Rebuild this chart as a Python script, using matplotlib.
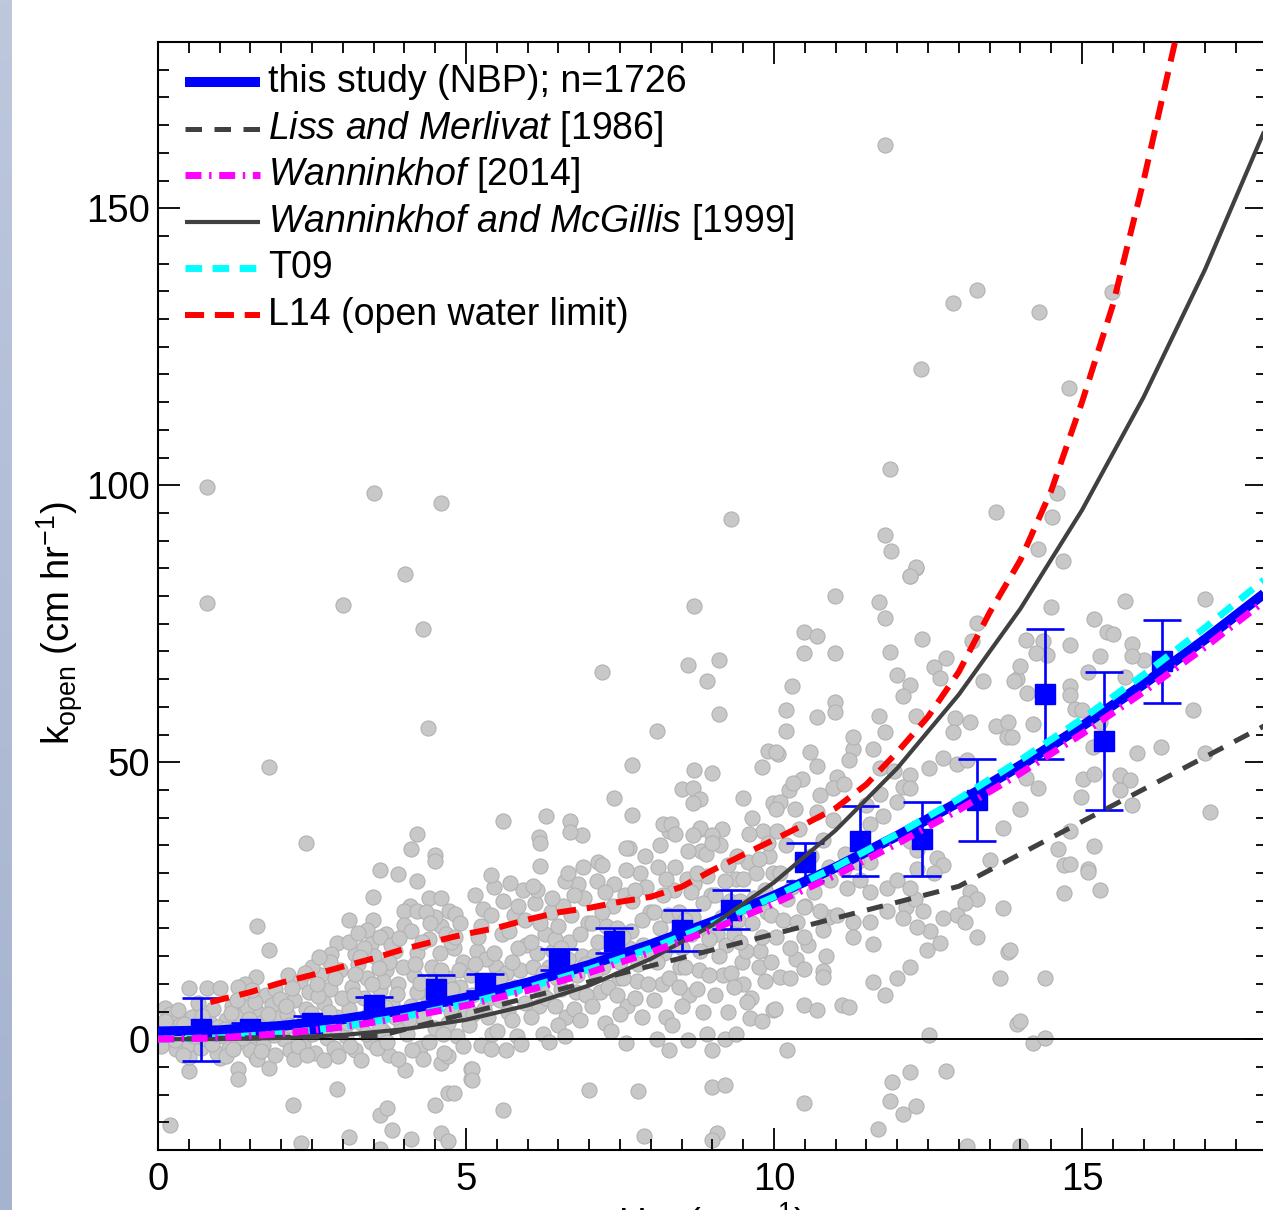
import numpy as np
import matplotlib
matplotlib.use("Agg")
import matplotlib.pyplot as plt
from matplotlib.ticker import MultipleLocator
from matplotlib.colors import LinearSegmentedColormap

plt.rcParams['font.family'] = ['Liberation Sans', 'DejaVu Sans']
plt.rcParams['mathtext.fontset'] = 'custom'
plt.rcParams['mathtext.rm'] = 'Liberation Sans'
plt.rcParams['mathtext.it'] = 'Liberation Sans:italic'
plt.rcParams['mathtext.bf'] = 'Liberation Sans:bold'

# ---- individual gas transfer estimates (u10, k_open) ----
pts_left = [
    (2.40, 35.4), (4.20, 37.1), (4.11, 34.4), (4.50, 33.3), (4.50, 32.2), (3.60, 30.6),
    (3.90, 29.8), (4.20, 28.6), (3.49, 25.7), (4.09, 24.1), (3.99, 23.1), (4.20, 23.1),
    (4.40, 25.5), (4.59, 25.5), (4.72, 23.1), (4.82, 22.6), (3.10, 21.5), (1.61, 20.4),
    (3.49, 21.5), (3.39, 19.7), (3.70, 19.0), (3.99, 20.6), (2.91, 17.4), (1.80, 16.1),
    (2.81, 15.4), (3.20, 15.4), (3.46, 17.2), (2.11, 11.6), (1.59, 11.2), (1.41, 9.9),
    (0.50, 9.2), (0.80, 9.2), (1.01, 9.2), (0.11, 5.6), (0.50, -5.8), (1.30, -5.4),
    (1.30, -7.2), (1.80, -5.2), (2.91, -9.0), (2.19, -11.8), (0.19, -15.4), (2.32, -18.8),
    (3.10, -17.7), (3.60, -13.6), (3.72, -12.5), (3.80, -16.3), (3.60, -19.9), (4.11, -18.1),
    (4.01, -5.6), (4.59, -4.3), (4.71, -3.1), (4.71, -9.8), (4.81, -9.8), (4.50, -11.8),
    (4.59, -17.0), (4.71, -18.3), (5.08, -5.4), (5.08, -7.2), (0.50, -3.3), (1.01, -3.4),
    (1.59, -3.3),
]

cloud_low = [
    (0.05, 1.0), (0.1, -0.5), (0.15, 2.5), (0.25, 0.5), (0.3, -1.8), (0.35, 3.5), (0.45, 1.2),
    (0.5, -0.8), (0.55, 4.0), (0.6, 2.0), (0.7, -1.5), (0.75, 0.3), (0.85, 3.0), (0.9, 5.5),
    (0.95, -2.5), (0.05, -1.2), (0.2, 4.5), (0.65, 6.5), (0.8, 1.5), (0.4, -2.8),
    (1.05, 0.5), (1.1, 3.5), (1.15, -1.5), (1.2, 6.0), (1.25, 1.8), (1.3, -0.5), (1.35, 4.2),
    (1.4, 7.5), (1.45, 2.5), (1.5, -2.0), (1.55, 0.8), (1.6, 5.0), (1.65, 3.0), (1.7, -1.0),
    (1.75, 8.0), (1.8, 1.5), (1.85, 6.2), (1.9, -2.8), (1.95, 3.8), (1.1, -3.0), (1.3, 9.5),
    (1.6, -3.5), (1.9, 9.0), (1.45, 5.8), (1.7, 2.0),
    (2.05, 0.0), (2.1, 4.5), (2.15, -2.0), (2.2, 7.0), (2.25, 2.0), (2.3, 10.5), (2.35, -0.8),
    (2.4, 5.5), (2.45, 8.5), (2.5, 1.0), (2.55, -2.5), (2.6, 3.5), (2.65, 11.5), (2.7, 6.5),
    (2.75, 0.2), (2.8, 9.0), (2.85, -1.5), (2.9, 4.0), (2.95, 12.5), (2.2, -3.5), (2.5, 13.0),
    (2.7, -3.8), (2.35, 3.0), (2.6, 7.8), (2.9, 1.8), (2.8, 14.0),
    (3.05, 0.5), (3.1, 5.5), (3.15, 9.5), (3.2, -2.0), (3.25, 13.5), (3.3, 3.0), (3.35, 7.5),
    (3.4, 11.0), (3.45, -0.5), (3.5, 15.0), (3.55, 4.5), (3.6, 8.8), (3.65, 1.5), (3.7, 12.5),
    (3.75, -2.8), (3.8, 6.5), (3.85, 16.0), (3.9, 10.0), (3.95, 2.5), (3.1, 17.5), (3.3, -3.8),
    (3.6, 18.5), (3.9, -3.5), (3.45, 6.0), (3.75, 14.0), (3.2, 11.8), (3.55, -1.5), (3.85, 4.0),
    (3.65, 10.5), (3.35, 16.5),
    (4.05, 1.0), (4.1, 6.0), (4.15, 11.5), (4.2, 15.5), (4.25, -1.5), (4.3, 4.0), (4.35, 9.0),
    (4.4, 18.0), (4.45, 13.0), (4.5, 2.0), (4.55, 7.5), (4.6, 20.5), (4.65, -2.5), (4.7, 11.0),
    (4.75, 5.0), (4.8, 16.5), (4.85, 0.5), (4.9, 9.5), (4.95, 14.0), (4.1, 19.5), (4.3, -3.5),
    (4.5, 22.0), (4.7, 3.0), (4.9, 21.0), (4.2, 8.5), (4.4, -0.5), (4.6, 12.5), (4.8, 7.0),
    (4.35, 23.0), (4.75, 17.5),
]

cloud_fill = [
    (0.12, 3.2), (0.28, -0.2), (0.42, 2.8), (0.58, 0.6), (0.72, 4.2), (0.88, -0.9), (0.98, 2.2), (0.33, 5.2),
    (1.08, 1.9), (1.18, 4.8), (1.28, 7.0), (1.38, 0.2), (1.48, 3.6), (1.58, 6.8), (1.68, -2.2), (1.78, 4.5),
    (1.88, 0.8), (1.98, 7.2), (1.22, -1.8), (1.52, 8.9),
    (2.08, 6.0), (2.18, 9.2), (2.28, -1.2), (2.38, 12.0), (2.48, 4.8), (2.58, 10.0), (2.68, 1.6), (2.78, 5.0),
    (2.88, 11.0), (2.98, 7.5), (2.12, 2.5), (2.42, -2.8), (2.62, 14.8), (2.92, -3.0),
    (3.08, 3.0), (3.18, 8.0), (3.28, 14.8), (3.38, 1.0), (3.48, 10.0), (3.58, 12.8), (3.68, 5.8), (3.78, 17.0),
    (3.88, 8.2), (3.98, 13.0), (3.12, -1.2), (3.42, 4.5), (3.72, -0.5), (3.92, 18.2), (3.25, 19.2), (3.58, 2.8),
    (4.08, 3.5), (4.18, 13.5), (4.28, 17.5), (4.38, 6.5), (4.48, 10.5), (4.58, 15.5), (4.68, 19.0), (4.78, 9.0),
    (4.88, 12.5), (4.98, 4.5), (4.12, -2.0), (4.42, 21.0), (4.62, 1.0), (4.82, 18.5), (4.95, -1.2), (4.25, 10.2),
    (5.08, 11.5), (5.18, 16.0), (5.28, 23.5), (5.38, 7.5), (5.48, 13.0), (5.58, 19.0), (5.68, 5.0), (5.78, 22.5),
    (5.88, 12.5), (5.98, 17.0), (5.12, 4.5), (5.42, 1.0), (5.62, 9.0), (5.82, 0.5), (5.92, 27.0), (5.32, 14.5),
    (6.08, 13.0), (6.18, 6.0), (6.28, 19.0), (6.38, 23.0), (6.48, 11.0), (6.58, 24.0), (6.68, 17.5), (6.78, 8.5),
    (6.88, 15.0), (6.98, 21.0), (6.12, 24.5), (6.42, 16.0), (6.62, 4.0), (6.82, 28.0), (6.22, 9.0), (6.92, 25.5),
    (7.08, 15.0), (7.18, 8.5), (7.28, 20.5), (7.38, 24.0), (7.48, 11.0), (7.58, 26.0), (7.68, 19.5), (7.78, 10.5),
    (7.88, 17.0), (7.98, 23.0), (7.12, 28.5), (7.42, 17.0), (7.62, 6.0), (7.82, 30.0), (7.22, 13.0), (7.92, 27.5),
    (8.08, 17.0), (8.18, 10.0), (8.28, 22.5), (8.38, 27.0), (8.48, 13.0), (8.58, 29.0), (8.68, 22.0), (8.78, 12.5),
    (8.88, 20.0), (8.98, 26.0), (8.12, 31.0), (8.42, 19.0), (8.62, 8.0), (8.82, 34.0), (8.22, 15.5), (8.92, 29.5),
    (9.08, 19.0), (9.18, 11.5), (9.28, 25.0), (9.38, 29.0), (9.48, 14.0), (9.58, 32.0), (9.68, 25.5), (9.78, 16.0),
    (9.88, 23.0), (9.98, 30.0), (9.12, 35.0), (9.42, 21.5), (9.62, 7.5), (9.82, 37.5), (9.22, 17.0), (9.92, 33.0),
]

cloud_mid = [
    (5.05, 2.5), (5.1, 8.0), (5.15, 13.5), (5.2, 18.5), (5.25, -1.0), (5.3, 5.5), (5.35, 10.5),
    (5.4, 22.5), (5.45, 15.5), (5.5, 1.5), (5.55, 7.0), (5.6, 25.0), (5.65, 12.0), (5.7, 19.5),
    (5.75, 3.5), (5.8, 9.5), (5.85, 16.5), (5.9, -0.8), (5.95, 21.5), (5.15, 26.0), (5.35, 4.0),
    (5.55, 11.0), (5.75, 14.0), (5.95, 6.5), (5.25, 20.5), (5.65, -2.0), (5.45, 27.5), (5.85, 24.0),
    (6.05, 4.0), (6.1, 10.0), (6.15, 15.5), (6.2, 21.0), (6.25, 1.0), (6.3, 7.5), (6.35, 13.0),
    (6.4, 25.5), (6.45, 18.0), (6.5, 2.5), (6.55, 9.0), (6.6, 28.5), (6.65, 14.5), (6.7, 22.5),
    (6.75, 5.5), (6.8, 11.5), (6.85, 19.0), (6.9, 31.0), (6.95, 8.0), (6.15, 27.0), (6.35, -0.5),
    (6.55, 16.5), (6.75, 26.0), (6.95, 13.5), (6.25, 12.0), (6.45, 6.0), (6.65, 30.0), (6.85, 3.5),
    (6.05, 17.5), (6.5, 20.5),
    (7.05, 6.0), (7.1, 12.0), (7.15, 17.5), (7.2, 23.0), (7.25, 3.0), (7.3, 9.5), (7.35, 15.0),
    (7.4, 28.0), (7.45, 20.0), (7.5, 4.5), (7.55, 11.0), (7.6, 30.5), (7.65, 16.5), (7.7, 25.0),
    (7.75, 7.5), (7.8, 13.5), (7.85, 21.5), (7.9, 33.0), (7.95, 10.0), (7.15, 32.0), (7.35, 1.5),
    (7.55, 18.5), (7.75, 27.0), (7.95, 15.5), (7.25, 26.5), (7.45, 8.0), (7.65, 34.5), (7.85, 4.0),
    (7.05, 21.0), (7.5, 14.0),
    (8.05, 7.0), (8.1, 14.0), (8.15, 20.0), (8.2, 26.0), (8.25, 4.0), (8.3, 11.0), (8.35, 17.0),
    (8.4, 31.0), (8.45, 23.0), (8.5, 6.0), (8.55, 13.0), (8.6, 34.0), (8.65, 19.0), (8.7, 28.0),
    (8.75, 9.0), (8.8, 16.0), (8.85, 24.5), (8.9, 33.5), (8.95, 11.5), (8.15, 35.0), (8.35, 2.5),
    (8.55, 21.5), (8.75, 30.0), (8.95, 18.0), (8.25, 29.0), (8.45, 9.5), (8.65, 26.5), (8.85, 5.0),
    (8.05, 23.0), (8.5, 16.5), (8.8, 38.0), (8.3, 37.5),
    (9.05, 8.0), (9.1, 15.0), (9.15, 22.0), (9.2, 28.5), (9.25, 5.0), (9.3, 12.0), (9.35, 19.0),
    (9.4, 33.0), (9.45, 25.0), (9.5, 10.0), (9.55, 16.0), (9.6, 37.0), (9.65, 21.0), (9.7, 30.0),
    (9.75, 13.0), (9.8, 18.5), (9.85, 27.0), (9.9, 35.5), (9.95, 14.0), (9.15, 38.0), (9.35, 9.5),
    (9.55, 24.0), (9.75, 32.5), (9.95, 22.5), (9.25, 31.5), (9.45, 17.5), (9.65, 40.0), (9.85, 10.5),
    (9.05, 26.0), (9.5, 29.0),
    (10.1, 30.0), (10.2, 35.0), (10.3, 27.5), (10.4, 38.0), (10.5, 24.0), (10.6, 33.0), (10.7, 41.0),
    (10.8, 36.0), (10.9, 31.0), (10.15, 21.5), (10.35, 14.5), (10.55, 17.0), (10.75, 44.0),
    (10.95, 39.5), (10.25, 45.0), (10.65, 26.5), (10.85, 15.0), (10.45, 47.0), (10.05, 37.5),
    (10.9, 22.0),
]

pts_mid = [
    (8.70, 78.2), (8.60, 67.5), (9.10, 68.4), (8.91, 64.7), (7.20, 66.3), (9.10, 58.7), (8.10, 55.7),
    (7.69, 49.5), (9.90, 52.0), (9.80, 49.2), (10.07, 51.4), (8.70, 48.6), (9.00, 48.1), (7.40, 43.6),
    (8.50, 45.2), (8.69, 45.3), (8.80, 43.4), (8.69, 42.6), (9.50, 43.6), (7.69, 40.4), (9.99, 42.6),
    (5.60, 39.3), (6.30, 40.2), (6.69, 39.3), (6.89, 36.8), (6.69, 37.4), (6.19, 36.5), (6.20, 35.5),
    (7.60, 34.5), (8.20, 38.8), (8.32, 38.9), (8.39, 37.1), (8.80, 38.1), (8.69, 36.8), (9.00, 36.8),
    (9.00, 35.5), (5.40, 29.7), (6.20, 31.2), (5.71, 28.2), (7.20, 31.5), (6.09, 27.6), (7.60, -0.7),
    (8.30, -2.0), (8.60, -0.2), (8.91, 1.0), (9.00, -2.0), (9.20, 0.1), (9.39, 1.0), (8.10, 0.0),
    (6.61, 0.6), (9.56, 6.7), (9.61, 3.9), (9.80, 3.3), (9.99, 5.2), (5.60, -12.8), (7.00, -9.1),
    (7.80, -9.3), (9.00, -8.7), (9.20, -8.3), (7.89, -17.5), (9.07, -16.9), (9.00, -18.2),
    (5.10, -5.4), (5.10, -7.4), (5.40, -1.7), (4.39, 56.1), (1.80, 49.1), (4.30, 74.1),
]

pts_high = [
    (12.30, 85.1), (12.20, 83.7), (10.99, 80.0), (11.70, 79.0), (11.80, 76.1), (10.49, 73.5),
    (10.69, 72.8), (10.49, 69.8), (10.99, 69.8), (12.40, 72.3), (13.29, 75.2), (13.21, 71.8),
    (11.89, 69.9), (12.80, 68.8), (12.60, 67.1), (12.69, 65.2), (11.99, 65.7), (12.21, 64.0),
    (12.10, 62.0), (10.30, 63.7), (10.99, 60.9), (10.99, 59.1), (10.69, 58.2), (10.19, 59.4),
    (10.19, 55.7), (10.03, 51.8), (11.70, 58.4), (11.80, 55.5), (12.30, 58.4), (13.40, 64.7),
    (13.94, 65.0), (12.94, 57.9), (13.18, 57.3), (12.90, 55.5), (13.61, 56.5), (13.80, 57.2),
    (13.78, 54.5), (11.29, 52.4), (11.21, 50.4), (11.61, 52.4), (11.29, 54.5), (10.58, 51.8),
    (10.69, 49.4), (10.31, 46.3), (11.02, 47.3), (10.96, 45.3), (11.13, 46.0), (11.72, 49.0),
    (11.94, 48.4), (12.21, 47.7), (12.51, 49.0), (12.75, 50.7), (12.97, 49.7), (13.13, 50.4),
    (11.72, 44.3), (11.50, 42.2), (11.77, 40.2), (11.99, 42.9), (12.10, 45.6), (12.21, 45.3),
    (13.72, 38.2), (13.51, 32.4), (12.64, 32.7), (12.75, 31.4), (12.59, 30.0), (12.32, 30.7),
    (12.21, 35.8), (12.32, 34.1), (13.18, 26.6), (13.29, 25.3), (13.10, 24.6), (12.97, 22.5),
    (13.10, 21.2), (13.29, 18.5), (13.72, 23.6), (13.80, 15.7), (13.67, 11.0), (13.94, 2.8),
    (12.51, 0.8), (12.80, -5.7), (12.20, -6.0), (11.91, -7.7), (11.88, -11.1), (12.10, -13.5),
    (12.30, -12.1), (11.69, -16.2), (10.21, -1.9), (10.49, -11.5), (13.13, -19.3), (10.48, 12.7),
    (10.80, 12.3), (10.80, 11.3), (10.10, 11.3), (10.26, 11.0), (10.49, 6.2), (10.69, 5.2),
    (11.10, 6.2), (11.21, 5.9), (11.61, 10.3), (11.80, 7.9), (11.99, 11.0), (12.21, 13.0),
    (10.02, 5.5), (12.48, 16.1), (12.69, 17.4), (12.53, 19.5), (12.32, 20.2), (12.75, 21.9),
    (12.15, 23.9), (12.29, 25.3), (12.42, 23.2), (10.10, 42.9), (10.04, 41.6), (10.34, 41.6),
    (11.56, 38.8), (11.45, 34.8), (11.56, 32.0), (11.34, 32.0), (11.15, 33.4), (11.13, 30.7),
    (10.91, 28.7), (11.18, 27.3), (11.40, 28.7), (11.56, 26.6), (11.83, 27.3), (11.99, 28.7),
    (12.21, 27.3), (10.21, 25.3), (10.48, 23.9), (10.37, 21.2), (10.75, 23.2), (11.02, 22.5),
    (11.29, 21.2), (11.56, 21.2), (11.83, 23.2), (12.10, 21.9), (10.80, 19.8), (11.29, 18.5),
    (11.61, 17.1), (10.04, 18.5), (10.48, 18.5), (10.26, 16.4),
]

pts_far = [
    (15.70, 79.1), (17.00, 79.4), (14.50, 78.1), (15.19, 75.9), (15.40, 73.5), (15.51, 73.2),
    (14.81, 71.1), (15.81, 71.3), (16.00, 68.4), (15.29, 69.1), (15.81, 69.1), (13.99, 67.4),
    (14.09, 72.0), (14.37, 71.8), (14.43, 69.4), (14.26, 69.8), (15.10, 66.2), (15.70, 65.4),
    (13.89, 64.7), (14.10, 62.5), (14.81, 63.7), (14.81, 62.1), (14.89, 59.6), (15.00, 59.4),
    (14.20, 56.9), (13.86, 54.5), (16.80, 59.4), (15.18, 52.8), (15.29, 57.2), (15.90, 51.6),
    (16.29, 52.8), (17.00, 51.6), (14.09, 47.2), (14.29, 45.4), (15.01, 46.9), (15.19, 47.8),
    (14.99, 43.7), (15.61, 47.7), (15.78, 46.7), (15.61, 45.0), (15.81, 42.2), (13.99, 41.6),
    (17.08, 41.0), (14.81, 37.5), (14.61, 34.4), (15.19, 34.8), (14.70, 31.5), (14.81, 31.7),
    (15.10, 30.8), (15.10, 30.1), (14.70, 26.3), (15.29, 26.9), (13.83, 16.1), (14.40, 11.0),
    (13.99, 3.2), (14.20, -0.6), (14.40, 0.2), (13.99, -19.3),
]

pts_top = [
    (11.80, 161.4), (12.91, 132.9), (13.30, 135.3), (14.30, 131.3), (15.49, 134.9), (12.39, 121.0),
    (14.79, 117.5), (11.88, 102.9), (0.80, 99.6), (3.51, 98.6), (4.59, 96.7), (9.30, 93.9),
    (13.60, 95.1), (14.59, 98.6), (14.51, 94.2), (14.29, 88.4), (11.80, 91.0), (11.90, 88.2),
    (12.31, 85.2), (12.21, 83.7), (14.69, 86.4), (4.01, 83.9), (0.80, 78.7), (3.00, 78.3),
]

# ---- binned means +/- error ----
bin_u = [0.70, 1.50, 2.50, 3.51, 4.51, 5.31, 6.51, 7.40, 8.50, 9.30, 10.50, 11.40, 12.40, 13.30, 14.40, 15.36, 16.30]
bin_k = [1.8, 1.9, 2.9, 6.1, 9.0, 10.2, 14.4, 17.8, 19.7, 23.4, 32.0, 35.8, 36.1, 43.1, 62.3, 53.8, 68.2]
bin_err = [5.7, 1.0, 1.2, 1.5, 2.6, 1.5, 1.9, 2.3, 3.7, 3.5, 3.4, 6.3, 6.7, 7.4, 11.8, 12.5, 7.5]

# ---- parameterisations, read at integer wind speeds ----
u_curve = list(range(19))
k_nbp = [1.4, 1.6, 2.4, 3.6, 5.3, 7.5, 10.2, 13.4, 17.1, 21.2, 25.9, 31.0, 36.7, 42.8, 49.4, 56.5, 64.1, 72.2, 80.8]
k_w14 = [0.0, 0.25, 1.0, 2.2, 3.9, 6.1, 8.8, 12.0, 15.7, 19.8, 24.5, 29.6, 35.3, 41.4, 48.0, 55.1, 62.7, 70.8, 79.4]
k_t09 = [0.0, 0.26, 1.0, 2.3, 4.1, 6.4, 9.3, 12.6, 16.4, 20.8, 25.7, 31.1, 37.0, 43.4, 50.4, 57.8, 65.8, 74.3, 83.3]
k_wm99 = [0.0, 0.03, 0.23, 0.76, 1.8, 3.5, 6.1, 9.7, 14.5, 20.6, 28.3, 37.7, 48.9, 62.2, 77.7, 95.5, 115.9, 139.0, 165.0]

u_lm86 = [0.0, 3.6, 13.0, 18.0]
k_lm86 = [0.0, 0.6, 27.6, 56.8]

u_l14 = [0.85, 1.5, 2.0, 2.5, 3.0, 3.5, 4.0, 4.5, 5.0, 5.5, 6.0, 6.5, 7.0, 7.5, 8.0, 8.5, 9.0, 9.5,
         10.0, 10.5, 11.0, 11.5, 12.0, 12.5, 13.0, 13.5, 14.0, 14.5, 15.0, 15.5, 16.0, 16.5, 16.6]
k_l14 = [6.7, 8.5, 10.2, 11.6, 13.1, 14.6, 16.3, 17.7, 19.0, 20.1, 21.6, 22.9, 23.7, 24.8, 25.7, 27.5,
         30.5, 33.3, 36.0, 38.8, 41.7, 46.0, 51.8, 58.2, 66.3, 77.0, 86.5, 99.0, 115.0, 132.5, 155.0, 179.5, 184.0]

labels = [
    'this study (NBP); n=1726',
    r'$\mathit{Liss\ and\ Merlivat}$ [1986]',
    r'$\mathit{Wanninkhof}$ [2014]',
    r'$\mathit{Wanninkhof\ and\ McGillis}$ [1999]',
    'T09',
    'L14 (open water limit)',
]

W, H = 1263, 1210
fig = plt.figure(figsize=(W / 100, H / 100), dpi=100)

# bluish strip on the left edge
strip = fig.add_axes([0, 0, 12 / W, 1])
grad = np.linspace(0, 1, 256).reshape(-1, 1)
cm = LinearSegmentedColormap.from_list('strip', ['#bdc8dd', '#a6b3cf'])
strip.imshow(grad, aspect='auto', cmap=cm, extent=[0, 1, 0, 1], origin='upper')
strip.axis('off')

ax = fig.add_axes([158 / W, 60 / H, 1108.8 / W, 1108 / H])

allpts = np.array(pts_left + cloud_low + cloud_fill + cloud_mid + pts_mid + pts_high + pts_far + pts_top)
ax.scatter(allpts[:, 0], allpts[:, 1], s=118, facecolor='#c8c8c8', edgecolor='#b2b2b2',
           linewidth=0.8, zorder=1)

ax.axhline(0, color='black', lw=1.4, zorder=1.5)

ax.errorbar(bin_u, bin_k, yerr=bin_err, fmt='s', color='#0000ff', ms=15, elinewidth=1.9,
            capsize=14, capthick=1.9, zorder=2)

styles = [
    dict(color='#0000ff', lw=7.2, ls='-', zorder=3),
    dict(color='#404040', lw=3.6, ls=(0, (3.3, 2.5)), zorder=5),
    dict(color='#ff00ff', lw=5.0, ls=(0, (2.3, 1.1, 0.35, 1.1)), zorder=6),
    dict(color='#404040', lw=3.0, ls='-', zorder=5),
    dict(color='#00ffff', lw=5.0, ls=(0, (2.4, 1.5)), zorder=4),
    dict(color='#ff0000', lw=4.3, ls=(0, (3.2, 1.8)), zorder=7),
]
series = [(u_curve, k_nbp), (u_lm86, k_lm86), (u_curve, k_w14), (u_curve, k_wm99),
          (u_curve, k_t09), (u_l14, k_l14)]
for (xs, ys), st in zip(series, styles):
    ax.plot(xs, ys, solid_capstyle='butt', dash_capstyle='butt', **st)

# legend drawn by hand so rows sit where they do in the original
x0, x1, xt = (185 - 158) / 1108.8, (260 - 158) / 1108.8, (268 - 158) / 1108.8
for i, (lab, st) in enumerate(zip(labels, styles)):
    yy = (1150 - (82 + 46.6 * i)) / 1108
    ax.plot([x0, x1], [yy, yy], transform=ax.transAxes, clip_on=False,
            solid_capstyle='butt', dash_capstyle='butt', **st)
    ax.text(xt, yy, lab, transform=ax.transAxes, fontsize=27, va='center', ha='left', zorder=8)

ax.set_xlim(0, 18)
ax.set_ylim(-20, 180)
ax.xaxis.set_major_locator(MultipleLocator(5))
ax.xaxis.set_minor_locator(MultipleLocator(0.5))
ax.yaxis.set_major_locator(MultipleLocator(50))
ax.yaxis.set_minor_locator(MultipleLocator(5))
ax.tick_params(which='both', direction='in', top=True, right=True, width=1.3)
ax.tick_params(which='major', length=16, labelsize=27.5)
ax.tick_params(axis='x', which='major', pad=9)
ax.tick_params(axis='y', which='major', pad=6)
ax.tick_params(which='minor', length=8)
for sp in ax.spines.values():
    sp.set_linewidth(1.5)

ax.set_xlabel(r'U$_{10}$ (m s$^{-1}$)', fontsize=27.5, labelpad=1)
ax.set_ylabel(r'k$_{\rm open}$ (cm hr$^{-1}$)', fontsize=27.5)
ax.yaxis.set_label_coords(-0.066, 0.475)

fig.savefig('out.png', dpi=100)
